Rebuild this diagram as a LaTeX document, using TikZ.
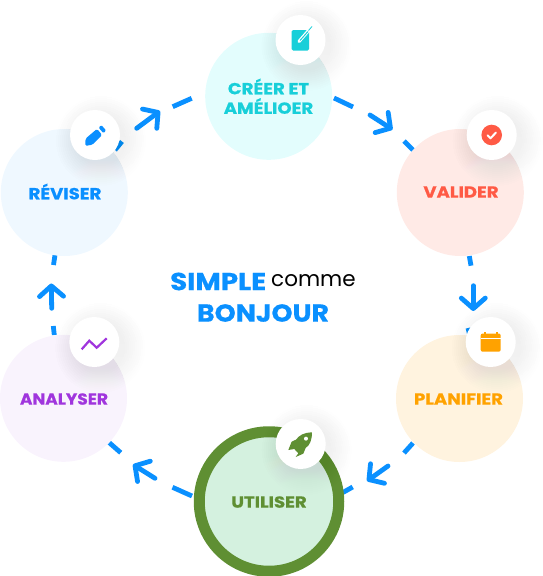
\documentclass[tikz,border=0pt]{standalone}
\usepackage{fontspec}
\usepackage{graphicx}
\setmainfont{Poppins}[BoldFeatures={FakeStretch=1.13,FakeBold=0.6}]
\usetikzlibrary{arrows.meta}
\definecolor{flowblue}{HTML}{0A90FF}
\definecolor{creC}{HTML}{18CFD9}\definecolor{creF}{HTML}{E3FDFD}
\definecolor{valC}{HTML}{FF5A45}\definecolor{valF}{HTML}{FFEAE6}
\definecolor{plaC}{HTML}{FFA200}\definecolor{plaF}{HTML}{FFF3DF}
\definecolor{utiC}{HTML}{5F8F33}\definecolor{utiF}{HTML}{D4F1DF}
\definecolor{anaC}{HTML}{A035DD}\definecolor{anaF}{HTML}{F9F3FD}
\definecolor{revC}{HTML}{0A8FFF}\definecolor{revF}{HTML}{EFF8FF}
\definecolor{shade}{HTML}{5A6A9A}
\tikzset{
  stage/.style={circle,inner sep=0pt,outer sep=0pt,minimum size=127pt},
  label/.style={inner sep=0pt,font=\bfseries\fontsize{16}{16}\selectfont},
  badge/.style={circle,fill=white,inner sep=0pt,outer sep=0pt,minimum size=50pt},
  seg/.style={draw=flowblue,line width=4.8pt},
  flow/.style={seg,line cap=round,line join=round,-{Straight Barb[round,length=10.5pt,width=24pt,line width=4.8pt]}},
  title/.style={inner sep=0pt,text=flowblue,font=\bfseries\fontsize{24.5}{24.5}\selectfont}
}
\newcommand{\softshadow}[2]{%
  \foreach \r in {25,27,...,45}{\fill[shade,opacity=.0045] (#1+6,#2+6) circle[radius=\r];}%
}
\begin{document}
\begin{tikzpicture}[x=1pt,y=-1pt]
\useasboundingbox (0,0) rectangle (542,576);
% connector end points
\coordinate (a1) at (334,98);    \coordinate (a2) at (353,107);
\coordinate (a3) at (370,115);   \coordinate (a4) at (392.5,129.5);
\coordinate (a5) at (404,141);   \coordinate (a6) at (413,150);
\coordinate (b1) at (469.3,256); \coordinate (b2) at (471,265.7);
\coordinate (b3) at (473.3,285.7); \coordinate (b4) at (473.3,311);
\coordinate (b5) at (468,328);   \coordinate (b6) at (471,340);
\coordinate (c1) at (413,443);   \coordinate (c2) at (404,453);
\coordinate (c3) at (388,466);   \coordinate (c4) at (367,481);
\coordinate (c5) at (352.7,487); \coordinate (c6) at (342,493);
\coordinate (d1) at (192,496);   \coordinate (d2) at (172.5,487.3);
\coordinate (d3) at (155,478.3); \coordinate (d4) at (133,464.5);
\coordinate (e1) at (120.7,452.7); \coordinate (e2) at (109.3,442.7);
\coordinate (e3) at (54.3,335);  \coordinate (e4) at (53.3,326);
\coordinate (e5) at (51.7,308.3); \coordinate (e6) at (51.3,283.5);
\coordinate (f1) at (53.5,265);  \coordinate (f2) at (55,255);
\coordinate (f3) at (115,150);   \coordinate (f4) at (122,141.5);
\coordinate (f5) at (136.7,128.3); \coordinate (f6) at (160,111);
\coordinate (f7) at (172.7,106.7); \coordinate (f8) at (191.7,98.3);
% connectors
\draw[seg] (a1) -- (a2);
\draw[flow] (a3) -- (a4);
\draw[seg] (a5) -- (a6);
\draw[seg] (b1) -- (b2);
\draw[flow] (b3) -- (b4);
\draw[seg] (b5) -- (b6);
\draw[seg] (c1) -- (c2);
\draw[flow] (c3) -- (c4);
\draw[seg] (c5) -- (c6);
\draw[seg] (d1) -- (d2);
\draw[flow] (d3) -- (d4);
\draw[seg] (e1) -- (e2);
\draw[seg] (e3) -- (e4);
\draw[flow] (e5) -- (e6);
\draw[seg] (f1) -- (f2);
\draw[seg] (f3) -- (f4);
\draw[flow] (f5) -- (f6);
\draw[seg] (f7) -- (f8);
% stages
\node[stage,fill=creF] (creer) at (268.7,96.3) {};
\node[stage,fill=valF] (valider) at (460.3,192.5) {};
\node[stage,fill=plaF] (planifier) at (459.5,398.5) {};
\node[circle,inner sep=0pt,outer sep=0pt,minimum size=139.5pt,fill=utiF,draw=utiC,line width=11pt] (utiliser) at (269,501.5) {};
\node[stage,fill=anaF] (analyser) at (63.5,398.3) {};
\node[stage,fill=revF] (reviser) at (64.3,192.5) {};
% labels
\node[label,text=creC] (t1) at (268.5,86.5) {CRÉER ET};
\node[label,text=creC] (t2) at (268.5,106) {AMÉLIOER};
\node[label,text=valC] (t3) at (461,192) {VALIDER};
\node[label,text=plaC] (t4) at (458.5,399) {PLANIFIER};
\node[label,text=utiC] (t5) at (269,502) {UTILISER};
\node[label,text=anaC] (t6) at (64,399) {\scalebox{.94}[1]{ANALYSER}};
\node[label,text=revC] (t7) at (65,191.5) {RÉVISER};
\node[title,anchor=west] (t8) at (170,281.5) {SIMPLE};
\node[inner sep=0pt,anchor=west,font=\fontsize{21.5}{21.5}\selectfont] (t9) at (271,280.5) {comme};
\node[title] (t10) at (263,313) {\scalebox{.97}[1]{BONJOUR}};
% badges
\softshadow{300.5}{40}
\softshadow{491.7}{135}
\softshadow{490.7}{342}
\softshadow{300.7}{444}
\softshadow{94.3}{342}
\softshadow{95}{135}
\node[badge] (i1) at (300.5,40) {};
\node[badge] (i2) at (491.7,135) {};
\node[badge] (i3) at (490.7,342) {};
\node[badge] (i4) at (300.7,444) {};
\node[badge] (i5) at (94.3,342) {};
\node[badge] (i6) at (95,135) {};
% note icon
\fill[creC,rounded corners=1.5pt] (291.7,30) rectangle (309,50.7);
\draw[white,line width=3.2pt,line cap=round] (299,41.5) -- (309,30);
\fill[white] (307,27) rectangle (313,31);
\draw[creC,line width=1pt] (300,40.5) -- (308,31.5);
\draw[creC,line width=.8pt] (308.5,30.5) -- (312,26.5);
% check icon
\fill[valC] (i2) circle[radius=10.3];
\draw[white,line width=2pt,line cap=round,line join=round] (487.5,135.3) -- (490.5,138.3) -- (496,132.5);
% calendar icon
\fill[plaC,rounded corners=2pt] (480.7,333.5) rectangle (500.7,351.7);
\fill[plaC] (484,331.5) rectangle (486,335);
\fill[plaC] (495.5,331.5) rectangle (497.5,335);
\draw[white,line width=.9pt] (480.7,338.7) -- (500.7,338.7);
% chart icon
\draw[anaC,line width=2.2pt,line join=miter] (81.7,349.3) -- (89.3,340.7) -- (96.7,347.7) -- (106.7,338.3);
% pencil icon
\fill[revC,rounded corners=1.5pt] (85.2,146) -- (85.6,138.6) -- (97,128.9) -- (102.2,135) -- (92.6,144.6) -- cycle;
\fill[revC,rounded corners=1pt] (98.6,127.6) -- (101.5,125.2) -- (106,130.4) -- (103.4,133.2) -- cycle;
% rocket icon
\begin{scope}[shift={(160,400)},x=.3333pt,y=-.3333pt]
\fill[utiC] (456,97) .. controls (430,98) and (418,106) .. (408,119) -- (395,125) -- (385,150) -- (403,147) -- (415,160) -- (407,171) -- (430,161) -- (437,144) .. controls (450,135) and (456,120) .. (456,97) -- cycle;
\fill[white] (438,116) circle[radius=6];
\end{scope}
\end{tikzpicture}
\end{document}
